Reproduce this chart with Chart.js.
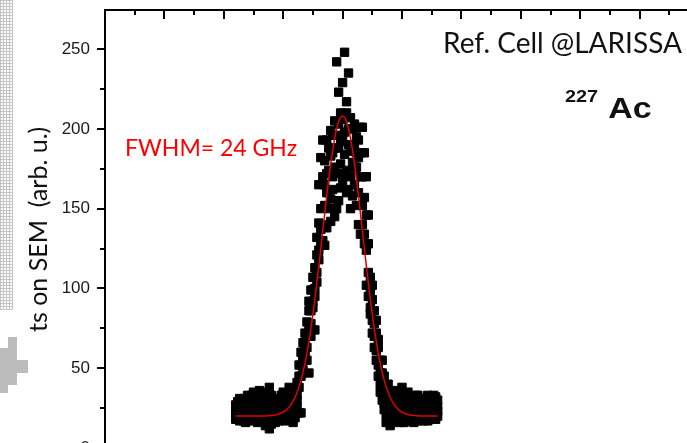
<!DOCTYPE html>
<html>
<head>
<meta charset="utf-8">
<script src="https://cdn.jsdelivr.net/npm/chart.js@4.4.1/dist/chart.umd.min.js"></script>
<style>
  html, body { margin: 0; padding: 0; background: #fff; overflow: hidden; }
  #wrap { width: 720px; height: 508px; }
</style>
</head>
<body>
<div id="wrap"><canvas id="scanChart" width="720" height="508"></canvas></div>
<script>
// detuning from the resonance (GHz), one step per scan point
const freqGHz = [
  -54, -53, -52, -51, -50, -49, -48, -47, -46, -45, -44, -43, -42, -41, -40, -39, -38, -37, -36, -35, -34, -33, -32, -31,
  -30, -29, -28, -27, -26, -25, -24, -23, -22,
  -21, -20, -19, -18, -17, -16, -15, -14, -13, -12, -11, -10,
  -9, -8, -7, -6, -5, -4, -3, -2, -1, 0, 1, 2, 3, 4, 5, 6, 7, 8, 9,
  10, 11, 12, 13, 14, 15, 16, 17, 18, 19, 20, 21, 22,
  23, 24, 25, 26, 27, 28, 29, 30, 31, 32, 33, 34, 35, 36, 37, 38, 39, 40, 41, 42, 43, 44, 45, 46, 47, 48
];

// SEM counts, four passes over the same frequency range
const scanA = [
  24, 29, 22, 26, 31, 27, 20, 25, 33, 28, 24, 30, 36, 27, 22, 26, 34, 38, 29, 24, 31, 27, 23, 29,
  26, 34, 22, 26, 31, 28, 36, 41, 52,
  60, 66, 72, 79, 86, 99, 107, 113, 121, 141, 150, 193,
  180, 193, 188, 199, 196, 205, 242, 223, 210, 229, 248, 217, 235, 207, 200, 203, 195, 193, 201,
  170, 185, 146, 146, 107, 93, 86, 72, 63, 55, 47, 38, 34,
  30, 22, 34, 27, 36, 29, 25, 38, 32, 27, 35, 29, 24, 31, 28, 33, 26, 30, 24, 29, 33, 27, 22, 28, 32, 26
];
const scanB = [
  18, 21, 27, 19, 23, 16, 24, 29, 21, 17, 26, 20, 23, 31, 18, 14, 21, 12, 19, 27, 16, 22, 30, 19,
  21, 17, 29, 19, 24, 16, 23, 30, 38,
  45, 49, 57, 63, 47, 78, 92, 74, 104, 118, 128, 140,
  165, 172, 160, 183, 170, 188, 196, 203, 192, 206, 198, 210, 190, 186, 179, 188, 176, 182, 170,
  152, 134, 124, 110, 98, 72, 63, 61, 52, 47, 30, 28, 16,
  18, 14, 21, 17, 24, 20, 16, 22, 26, 19, 23, 17, 20, 25, 18, 22, 19, 24, 17, 21, 25, 19, 20, 22, 18, 20
];
const scanC = [
  21, 25, 17, 23, 20, 30, 26, 18, 24, 35, 19, 25, 17, 22, 28, 32, 17, 24, 15, 21, 25, 18, 26, 33,
  35, 24, 18, 32, 20, 25, 19, 26, 22,
  22, 55, 61, 70, 74, 86, 88, 100, 110, 124, 137, 170,
  127, 138, 150, 156, 162, 145, 172, 155, 178, 167, 184, 174, 162, 170, 158, 165, 152, 160, 134,
  140, 128, 102, 95, 84, 80, 70, 55, 45, 40, 38, 24, 21,
  25, 28, 16, 23, 19, 26, 31, 18, 21, 29, 17, 25, 30, 20, 23, 17, 28, 21, 27, 18, 22, 24, 29, 19, 25, 30
];
const scanD = [
  27, 19, 31, 25, 17, 22, 33, 21, 28, 23, 31, 16, 26, 35, 25, 20, 29, 18, 33, 23, 20, 30, 17, 24,
  30, 21, 25, 38, 27, 21, 30, 33, 45,
  52, 58, 66, 55, 92, 70, 99, 95, 132, 165, 182, 130,
  152, 160, 174, 142, 185, 176, 150, 188, 163, 195, 172, 160, 200, 150, 190, 176, 185, 140, 185,
  201, 157, 170, 128, 88, 102, 78, 80, 68, 35, 55, 45, 27,
  40, 33, 27, 31, 22, 35, 20, 27, 16, 34, 28, 22, 27, 16, 33, 25, 31, 18, 31, 25, 17, 30, 26, 33, 21, 23
];

// fitted line profile
const fitFreq = [
  -54, -52, -50, -48, -46, -44, -42, -40, -38, -36, -34, -32, -30, -28, -26, -24, -22, -20, -18, -16, -14, -12, -10, -8, -6, -4, -2,
  0, 2, 4, 6, 8, 10, 12, 14, 16, 18, 20, 22, 24, 26, 28, 30, 32, 34, 36, 38, 40, 42, 44, 46, 48
];
const fitCounts = [
  20.0, 20.0, 20.0, 20.0, 20.0, 20.0, 20.0, 20.0, 20.2, 20.4, 20.7, 21.4, 22.5, 24.3, 27.3, 31.8, 38.3, 47.4, 59.5, 74.8, 93.2, 114, 136.2, 158.2, 178.1, 194.1, 204.4,
  208, 204.4, 194.1, 178.1, 158.2, 136.2, 114, 93.2, 74.8, 59.5, 47.4, 38.3, 31.8, 27.3, 24.3, 22.5, 21.4, 20.7, 20.4, 20.2, 20.0, 20.0, 20.0, 20.0, 20.0
];

const toPoints = (xs, ys) => xs.map((v, i) => ({ x: v, y: ys[i] }));

const scanStyle = {
  pointStyle: 'rect',
  pointRadius: 5.9,
  backgroundColor: '#000',
  borderColor: '#000',
  borderWidth: 1,
  order: 1
};

// frame, tick marks and the text labels
const frameAndNotes = {
  id: 'frameAndNotes',
  beforeDraw(chart) {
    const ctx = chart.ctx;
    ctx.save();
    ctx.fillStyle = '#fff';
    ctx.fillRect(0, 0, chart.width, chart.height);

    // dotted strip at the left edge
    const tile = document.createElement('canvas');
    tile.width = 3;
    tile.height = 3;
    const t = tile.getContext('2d');
    t.fillStyle = '#fff';
    t.fillRect(0, 0, 3, 3);
    t.fillStyle = '#c4c4c4';
    t.fillRect(0, 0, 3, 1);
    t.fillRect(0, 0, 1, 3);
    ctx.fillStyle = ctx.createPattern(tile, 'repeat');
    ctx.fillRect(0, 0, 13, 310);

    // grey blocks under the strip
    ctx.fillStyle = '#bcbcbc';
    [[8, 337, 9, 11], [0, 348, 17, 12], [0, 360, 28, 13], [0, 373, 17, 12], [0, 385, 8, 8]]
      .forEach(r => ctx.fillRect(r[0], r[1], r[2], r[3]));
    ctx.restore();
  },
  afterDraw(chart) {
    const { ctx, chartArea: a, scales: { x, y } } = chart;
    ctx.save();
    ctx.strokeStyle = '#000';
    ctx.lineWidth = 2;
    ctx.strokeRect(a.left, a.top, a.right - a.left, a.bottom - a.top);

    ctx.beginPath();
    // left axis: ticks pointing out
    for (let v = 0; v <= y.max; v += 25) {
      const py = Math.round(y.getPixelForValue(v));
      const len = v % 50 === 0 ? 8 : 5;
      ctx.moveTo(a.left - len, py);
      ctx.lineTo(a.left, py);
    }
    // top axis: ticks pointing in
    for (let v = x.min; v <= x.max; v += 15) {
      const px = Math.round(x.getPixelForValue(v));
      const len = v % 30 === 0 ? 9 : 5;
      ctx.moveTo(px, a.top);
      ctx.lineTo(px, a.top + len);
    }
    ctx.stroke();

    ctx.textBaseline = 'alphabetic';
    ctx.textAlign = 'left';
    ctx.fillStyle = '#111';
    ctx.font = '28px Lato';
    ctx.fillText('Ref. Cell @LARISSA', 443, 53);

    // isotope label, drawn a little wide
    ctx.save();
    ctx.translate(565, 0);
    ctx.scale(1.17, 1);
    ctx.font = 'bold 17px "Liberation Sans"';
    ctx.fillText('227', 0, 102);
    ctx.font = 'bold 29px "Liberation Sans"';
    ctx.fillText('Ac', 37, 118);
    ctx.restore();

    ctx.fillStyle = '#ff0000';
    ctx.font = '23px Lato';
    ctx.fillText('FWHM= 24 GHz', 125, 156);

    // y axis title
    ctx.translate(47, 332);
    ctx.rotate(-Math.PI / 2);
    ctx.fillStyle = '#111';
    ctx.font = '25px Lato';
    ctx.fillText('ts on SEM  (arb. u.)', 0, 0);
    ctx.restore();
  }
};

new Chart(document.getElementById('scanChart'), {
  type: 'scatter',
  data: {
    datasets: [
      {
        label: 'fit',
        data: toPoints(fitFreq, fitCounts),
        showLine: true,
        borderColor: '#e00000',
        borderWidth: 1.5,
        pointRadius: 0,
        cubicInterpolationMode: 'monotone',
        fill: false,
        order: 0
      },
      Object.assign({ label: 'scan A', data: toPoints(freqGHz, scanA) }, scanStyle),
      Object.assign({ label: 'scan B', data: toPoints(freqGHz, scanB) }, scanStyle),
      Object.assign({ label: 'scan C', data: toPoints(freqGHz, scanC) }, scanStyle),
      Object.assign({ label: 'scan D', data: toPoints(freqGHz, scanD) }, scanStyle)
    ]
  },
  options: {
    responsive: false,
    animation: false,
    layout: { padding: { top: 10, right: 21, left: 0, bottom: 0 } },
    plugins: {
      legend: { display: false },
      tooltip: { enabled: false }
    },
    scales: {
      x: {
        type: 'linear',
        min: -120,
        max: 180,
        ticks: { display: false, stepSize: 30, includeBounds: false },
        grid: { display: false, drawTicks: false },
        border: { display: false },
        afterFit(scale) {
          scale.height = 60;
          scale.paddingLeft = 0;
          scale.paddingRight = 0;
        }
      },
      y: {
        type: 'linear',
        min: 0,
        max: 274.5,
        ticks: {
          stepSize: 50,
          includeBounds: false,
          padding: 15,
          color: '#1a1a1a',
          font: { family: '"Liberation Sans", Arial', size: 17 }
        },
        grid: { display: false, drawTicks: false },
        border: { display: false },
        afterFit(scale) {
          scale.width = 105;
          scale.paddingTop = 0;
          scale.paddingBottom = 0;
        }
      }
    }
  },
  plugins: [frameAndNotes]
});
</script>
</body>
</html>
